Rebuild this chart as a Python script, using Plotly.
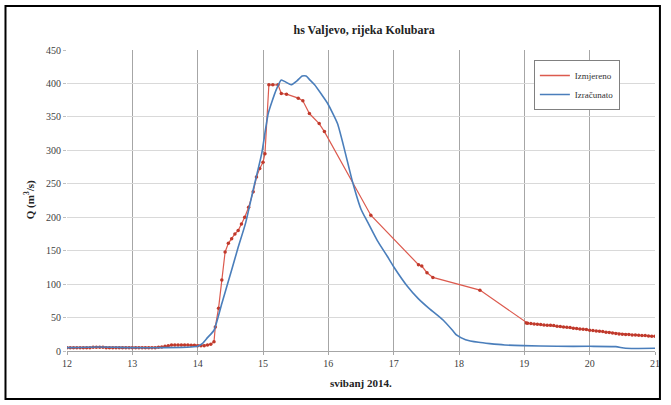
import plotly.graph_objects as go

# Izmjereno (measured discharge), day of May 2014 vs Q in m3/s
meas_day = [12.0, 12.05, 12.1, 12.15, 12.2, 12.25, 12.3, 12.35, 12.4, 12.45,
            12.5, 12.55, 12.6, 12.65, 12.7, 12.75, 12.8, 12.85, 12.9, 12.95,
            13.0, 13.05, 13.1, 13.15, 13.2, 13.25, 13.3, 13.35, 13.4, 13.45,
            13.5, 13.55, 13.6, 13.65, 13.7, 13.75, 13.8, 13.85, 13.9, 13.95,
            14.0, 14.05, 14.1, 14.15, 14.2, 14.25, 14.27, 14.32, 14.37, 14.42,
            14.47, 14.52, 14.57, 14.62, 14.67, 14.72, 14.78, 14.85, 14.9, 14.95,
            15.0, 15.03, 15.09, 15.15, 15.23, 15.28, 15.36, 15.54, 15.61, 15.71,
            15.86, 15.94, 16.65, 17.38, 17.43, 17.51, 17.6, 18.32,
            19.03, 19.05, 19.1, 19.15, 19.2, 19.25, 19.3, 19.35, 19.4, 19.45,
            19.5, 19.55, 19.6, 19.65, 19.7, 19.75, 19.8, 19.85, 19.9, 19.95,
            20.0, 20.05, 20.1, 20.15, 20.2, 20.25, 20.3, 20.35, 20.4, 20.45,
            20.5, 20.55, 20.6, 20.65, 20.7, 20.75, 20.8, 20.85, 20.9, 20.95, 21.0]
meas_q = [5, 5, 5, 5, 5, 5, 5, 5, 5.5, 5.5,
          5.5, 5.5, 5, 5, 5, 5, 5, 5, 5, 5,
          5, 5, 5, 5, 5, 5, 5, 5, 5.5, 6,
          7, 8, 9, 9, 9, 9, 9, 9, 8.5, 8.5,
          8, 8, 8, 9, 10, 14, 36, 64, 106, 148,
          161, 168, 175, 180, 190, 200, 215, 238, 260, 273,
          282, 295, 398, 398, 398, 385, 384, 378, 374, 355,
          340, 328, 203, 129, 127, 117, 110, 91,
          42, 41.5, 41, 40.5, 40, 39.5, 39, 38.5, 38.5, 38,
          37, 36.5, 36, 35.5, 35, 34, 33.5, 33, 32.5, 32,
          31, 30.5, 30, 29.5, 29, 28, 27.5, 27, 26, 25.5,
          25, 24.5, 24.5, 24, 24, 23.5, 23, 23, 22.5, 22, 22]

# Izračunato (computed discharge)
calc_day = [12.0, 12.5, 13.0, 13.5, 13.9, 14.0, 14.07, 14.15, 14.25, 14.37,
            14.52, 14.62, 14.73, 14.85, 14.98, 15.08, 15.2, 15.28, 15.35, 15.43,
            15.52, 15.6, 15.66, 15.72, 15.79, 15.9, 15.99, 16.14, 16.25, 16.37,
            16.5, 16.6, 16.75, 16.9, 17.0, 17.2, 17.38, 17.55, 17.76, 17.9,
            17.96, 18.1, 18.3, 18.47, 18.7, 18.98, 19.5, 20.0, 20.4, 20.55, 21.0]
calc_q = [5, 6, 5, 5, 6, 7, 11, 20, 31, 71,
          121, 155, 190, 241, 295, 355, 390, 405, 402, 398,
          404, 411, 411, 405, 398, 383, 370, 340, 300, 253,
          212, 193, 165, 142, 126, 98, 78, 63, 46, 31,
          24, 17, 13, 11, 9, 8, 7, 7, 6.5, 4, 4]

day_ticks = list(range(12, 22))
q_ticks = list(range(0, 451, 50))

serif = "Liberation Serif, Times New Roman, serif"
red_line = "#DC5A4E"
red_dot = "#C0392B"
blue = "#4A7EBB"

fig = go.Figure()
fig.add_trace(go.Scatter(
    x=meas_day, y=meas_q, mode="lines+markers", name="Izmjereno",
    line=dict(color=red_line, width=1.2),
    marker=dict(color=red_dot, size=3.5),
    showlegend=False,
))
fig.add_trace(go.Scatter(
    x=calc_day, y=calc_q, mode="lines", name="Izračunato",
    line=dict(color=blue, width=1.6, shape="spline", smoothing=0.5),
    showlegend=False,
))
# legend keys drawn as plain line samples
fig.add_trace(go.Scatter(x=[None], y=[None], mode="lines", name="Izmjereno",
                         line=dict(color=red_line, width=1.5)))
fig.add_trace(go.Scatter(x=[None], y=[None], mode="lines", name="Izračunato",
                         line=dict(color=blue, width=1.5)))

fig.update_layout(
    width=671, height=405,
    margin=dict(l=67, r=11, t=50, b=54),
    paper_bgcolor="white", plot_bgcolor="white",
    font=dict(family=serif, size=10, color="#404040"),
    title=dict(text="<b>hs Valjevo, rijeka Kolubara</b>", x=0.5427, xanchor="center",
               y=1 - 30 / 405, yanchor="middle",
               font=dict(family=serif, size=12, color="#222222")),
    legend=dict(x=0.794, y=0.967, xanchor="left", yanchor="top",
                bgcolor="white", bordercolor="#808080", borderwidth=1,
                font=dict(family=serif, size=9, color="#333333"),
                itemwidth=30, tracegroupgap=2),
    showlegend=True,
)

fig.update_xaxes(
    range=[12, 21], tickvals=day_ticks, ticktext=[str(d) for d in day_ticks],
    showgrid=True, gridcolor="#A6A6A6", gridwidth=1,
    zeroline=False, showline=True, linecolor="#A6A6A6", linewidth=1,
    ticks="outside", ticklen=3, tickcolor="#A6A6A6",
    tickfont=dict(family=serif, size=10, color="#404040"),
)
fig.update_yaxes(
    range=[0, 450], tickvals=q_ticks,
    showgrid=True, gridcolor="#D9D9D9", gridwidth=1,
    zeroline=False, showline=False,
    ticks="outside", ticklen=3, tickcolor="#BFBFBF",
    tickfont=dict(family=serif, size=10, color="#404040"),
)

# axis titles
fig.add_annotation(text="<b>Q (m<sup>3</sup>/s)</b>", xref="paper", yref="paper",
                   x=-0.0624, y=0.502, textangle=-90, showarrow=False,
                   xanchor="center", yanchor="middle",
                   font=dict(family=serif, size=11, color="#222222"))
fig.add_annotation(text="<b>svibanj 2014.</b>", xref="paper", yref="paper",
                   x=0.5, y=-0.106, showarrow=False,
                   xanchor="center", yanchor="middle",
                   font=dict(family=serif, size=11, color="#222222"))

# outer frame around the chart
fig.add_shape(type="rect", xref="paper", yref="paper",
              x0=-0.1046, x1=1.0084, y0=-0.1595, y1=1.146,
              line=dict(color="black", width=2), fillcolor="rgba(0,0,0,0)",
              layer="above")

fig.write_html("out.html")
